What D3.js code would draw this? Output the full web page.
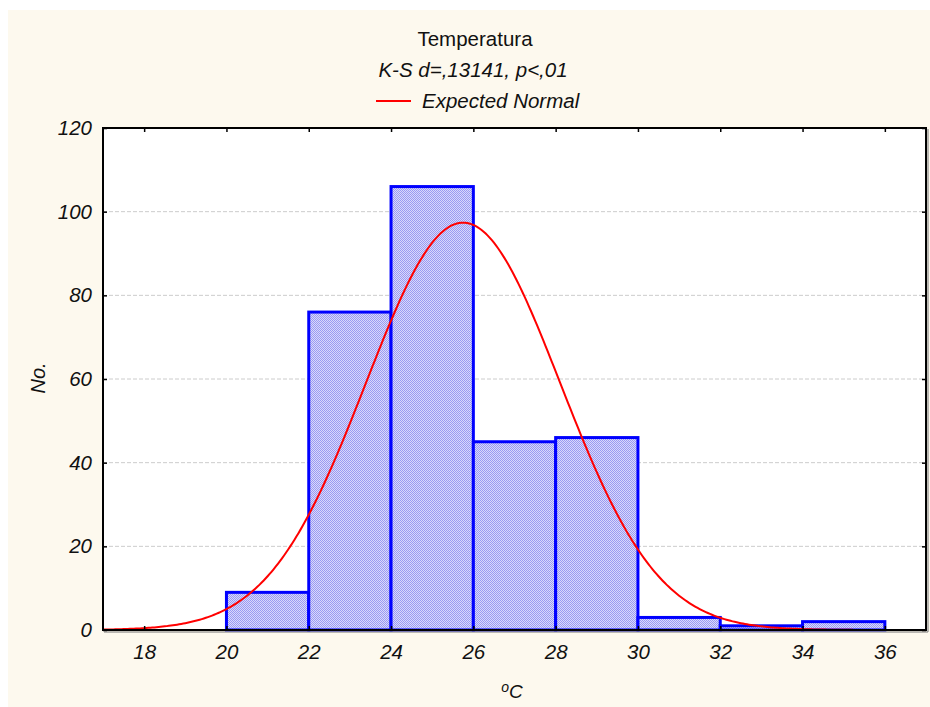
<!DOCTYPE html>
<html>
<head>
<meta charset="utf-8">
<script src="https://cdn.jsdelivr.net/npm/d3@7"></script>
<style>
html,body{margin:0;padding:0;background:#ffffff;}
svg{display:block;}
text{font-family:"Liberation Sans",Arial,sans-serif;fill:#111;}
</style>
</head>
<body>
<svg id="chart" width="930" height="707"></svg>
<script>
// ---- data ----
const binStarts = [20, 22, 24, 26, 28, 30, 32, 34];
const binEnds   = [22, 24, 26, 28, 30, 32, 34, 36];
const counts    = [9, 76, 106, 45, 46, 3, 1, 2];
const xTicks = [18, 20, 22, 24, 26, 28, 30, 32, 34, 36];
const yTicks = [0, 20, 40, 60, 80, 100, 120];
const gridValues = [20, 40, 60, 80, 100];
const xDomain = [17, 37];
const yDomain = [0, 120];
// expected normal fit parameters
const normalMean = 25.75;
const normalSD = 2.36;
const binWidth = 2;
const title = "Temperatura";
const subtitle = "K-S d=,13141, p<,01";
const legendLabel = "Expected Normal";
const yTitle = "No.";

// ---- layout ----
const svg = d3.select("#chart");
const L = 103, R = 926, T = 128, B = 630;
const x = d3.scaleLinear().domain(xDomain).range([L, R]);
const y = d3.scaleLinear().domain(yDomain).range([B, T]);
const FS = 20.5;

svg.append("rect").attr("x", 8).attr("y", 10).attr("width", 922).attr("height", 697).attr("fill", "#fdf9ee");

const defs = svg.append("defs");
const pat = defs.append("pattern").attr("id", "stip").attr("patternUnits", "userSpaceOnUse")
  .attr("width", 2).attr("height", 2);
pat.append("rect").attr("width", 2).attr("height", 2).attr("fill", "#d9d9fb");
pat.append("rect").attr("width", 1).attr("height", 1).attr("fill", "#9a9af2");
pat.append("rect").attr("x", 1).attr("y", 1).attr("width", 1).attr("height", 1).attr("fill", "#9a9af2");
defs.append("clipPath").attr("id", "plotClip").append("rect")
  .attr("x", L).attr("y", T).attr("width", R - L).attr("height", B - T);

// plot background
svg.append("rect").attr("x", L).attr("y", T).attr("width", R - L).attr("height", B - T).attr("fill", "#ffffff");

// grid
svg.append("g").selectAll("line").data(gridValues).join("line")
  .attr("x1", L).attr("x2", R).attr("y1", d => y(d)).attr("y2", d => y(d))
  .attr("stroke", "#cccccc").attr("stroke-width", 1).attr("stroke-dasharray", "4,2");

// bars
const bins = counts.map((c, i) => ({x0: binStarts[i], x1: binEnds[i], c}));
svg.append("g").selectAll("rect").data(bins).join("rect")
  .attr("x", d => x(d.x0)).attr("y", d => y(d.c))
  .attr("width", d => x(d.x1) - x(d.x0)).attr("height", d => y(0) - y(d.c))
  .attr("fill", "url(#stip)").attr("stroke", "#0000ff").attr("stroke-width", 3);

// expected normal curve
const nTotal = d3.sum(counts);
const xs = d3.range(xDomain[0], xDomain[1] + 0.001, 0.05);
const curve = xs.map(v => [v, nTotal * binWidth / (normalSD * Math.sqrt(2 * Math.PI)) *
  Math.exp(-0.5 * Math.pow((v - normalMean) / normalSD, 2))]);
svg.append("path").datum(curve).attr("clip-path", "url(#plotClip)")
  .attr("d", d3.line().x(d => x(d[0])).y(d => y(d[1])))
  .attr("fill", "none").attr("stroke", "#ff0000").attr("stroke-width", 2);

// frame
svg.append("rect").attr("x", L).attr("y", T).attr("width", R - L).attr("height", B - T)
  .attr("fill", "none").attr("stroke", "#000").attr("stroke-width", 2);
svg.append("line").attr("x1", R + 2).attr("x2", R + 2).attr("y1", T + 1).attr("y2", B + 2)
  .attr("stroke", "#777").attr("stroke-width", 1);
svg.append("line").attr("x1", L + 1).attr("x2", R + 2).attr("y1", B + 2).attr("y2", B + 2)
  .attr("stroke", "#777").attr("stroke-width", 1);

// axes (inward ticks)
const xAxisB = d3.axisBottom(x).tickValues(xTicks).tickSize(-4).tickPadding(14);
const gx = svg.append("g").attr("transform", `translate(0,${B})`).call(xAxisB);
gx.select(".domain").remove();
gx.selectAll("line").attr("stroke", "#000").attr("stroke-width", 1.5);
gx.selectAll("text").attr("font-size", FS).attr("font-style", "italic").attr("fill", "#111")
  .attr("dy", "0.71em").attr("font-family", "Liberation Sans, Arial, sans-serif");

const gxT = svg.append("g").attr("transform", `translate(0,${T})`)
  .call(d3.axisTop(x).tickValues(xTicks).tickSize(-4).tickFormat(""));
gxT.select(".domain").remove();
gxT.selectAll("line").attr("stroke", "#000").attr("stroke-width", 1.5);

const gy = svg.append("g").attr("transform", `translate(${L},0)`)
  .call(d3.axisLeft(y).tickValues(yTicks).tickSize(-4).tickPadding(11));
gy.select(".domain").remove();
gy.selectAll("line").attr("stroke", "#000").attr("stroke-width", 1.5);
gy.selectAll("text").attr("font-size", FS).attr("font-style", "italic").attr("fill", "#111")
  .attr("font-family", "Liberation Sans, Arial, sans-serif");

const gyR = svg.append("g").attr("transform", `translate(${R},0)`)
  .call(d3.axisRight(y).tickValues(yTicks).tickSize(-4).tickFormat(""));
gyR.select(".domain").remove();
gyR.selectAll("line").attr("stroke", "#000").attr("stroke-width", 1.5);

// titles
svg.append("text").attr("x", 475).attr("y", 46).attr("text-anchor", "middle")
  .attr("font-size", FS).text(title);
svg.append("text").attr("x", 473).attr("y", 77).attr("text-anchor", "middle")
  .attr("font-size", FS).attr("font-style", "italic").text(subtitle);
svg.append("line").attr("x1", 376).attr("x2", 411).attr("y1", 101).attr("y2", 101)
  .attr("stroke", "#ff0000").attr("stroke-width", 2);
svg.append("text").attr("x", 422).attr("y", 108)
  .attr("font-size", FS).attr("font-style", "italic").text(legendLabel);

// x axis title: superscript o + C
const xt = svg.append("text").attr("x", 512).attr("y", 698).attr("text-anchor", "middle")
  .attr("font-size", 19).attr("font-style", "italic");
xt.append("tspan").attr("font-size", 14).attr("dy", -6).text("o");
xt.append("tspan").attr("dy", 6).text("C");

svg.append("text").attr("transform", "translate(45,378) rotate(-90)").attr("text-anchor", "middle")
  .attr("font-size", 20).attr("font-style", "italic").text(yTitle);
</script>
</body>
</html>
